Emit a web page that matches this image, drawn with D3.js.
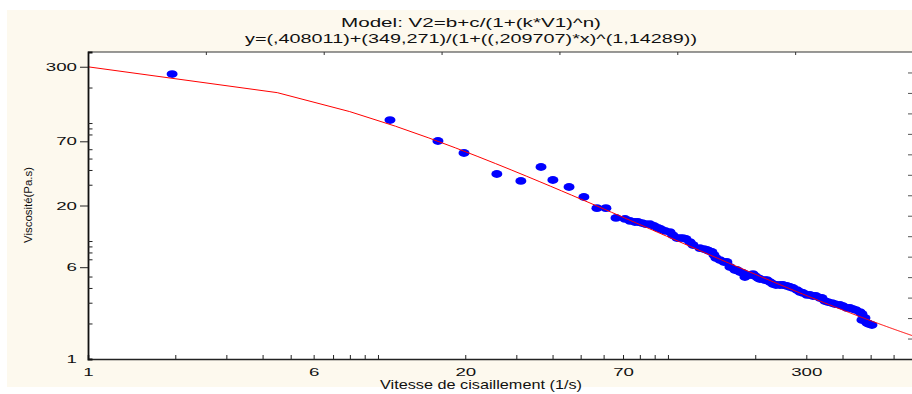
<!DOCTYPE html>
<html><head><meta charset="utf-8">
<script src="https://cdn.jsdelivr.net/npm/d3@7"></script>
<style>body{margin:0;background:#fff}svg{display:block}text{font-family:"Liberation Sans",Arial,sans-serif;fill:#111}</style>
</head><body>
<script>
// ---- data ----
const shearRate = [1.95, 11.0, 16.1, 19.8, 25.7, 31.1, 36.5, 40.1, 45.6, 51.3, 56.9, 61.1, 66.2, 71.1, 74.0, 76.9, 78.8, 81.4, 84.0, 86.7, 89.5, 92.4, 94.6, 97.6, 101.6, 104.0, 107.4, 110.0, 112.6, 115.4, 119.1, 122.0, 128.9, 133.1, 136.3, 138.5, 141.8, 144.1, 146.4, 151.1, 156.0, 159.7, 163.6, 170.2, 172.9, 177.1, 181.4, 184.3, 191.8, 196.4, 199.5, 204.4, 207.6, 216.0, 219.5, 224.8, 230.2, 235.8, 243.3, 249.3, 257.2, 263.5, 269.8, 278.5, 285.3, 292.2, 301.6, 308.9, 316.2, 323.8, 334.3, 339.6, 347.8, 356.1, 367.7, 376.5, 391.9, 401.3, 414.3, 424.2, 434.5, 444.9, 459.4, 466.7, 466.7, 478.0, 485.6, 493.4, 505.2];
const viscosity = [260, 106, 70.4, 55.7, 37.0, 32.3, 42.4, 32.9, 28.7, 23.6, 19.0, 19.0, 15.7, 15.4, 14.8, 14.5, 14.5, 14.2, 13.9, 13.9, 13.4, 12.9, 12.6, 12.2, 11.9, 11.2, 10.6, 10.6, 10.6, 10.4, 9.8, 9.25, 8.7, 8.55, 8.4, 8.23, 8.07, 7.61, 7.18, 6.9, 6.64, 6.64, 6.02, 5.68, 5.68, 5.46, 5.36, 4.95, 5.15, 5.25, 5.05, 4.86, 4.76, 4.67, 4.67, 4.49, 4.32, 4.24, 4.24, 4.24, 4.16, 4.08, 4.0, 3.84, 3.70, 3.63, 3.49, 3.49, 3.42, 3.42, 3.29, 3.29, 3.10, 3.04, 2.98, 2.92, 2.87, 2.81, 2.71, 2.71, 2.65, 2.60, 2.50, 2.41, 2.14, 2.23, 2.02, 1.98, 1.94];
const xMajorTicks = [1, 6, 20, 70, 300];
const yMajorTicks = [1, 6, 20, 70, 300];
const xMinorTicks = [2, 3, 4, 5, 7, 8, 9, 10, 30, 40, 50, 60, 80, 90, 100, 200, 400, 500, 600];
const yMinorTicks = [2, 3, 4, 5, 7, 8, 9, 10, 30, 40, 50, 60, 80, 90, 100, 200];
const topTicks = [1, 2, 3, 4, 5, 6];
const rightTicks = [1, 2, 3, 4, 5, 6, 7, 8, 9, 10, 11, 12, 13, 14];
const fitB = 0.408011, fitC = 349.271, fitK = 0.209707, fitN = 1.14289;
const curveSteps = 200;
const titleLines = ["Model: V2=b+c/(1+(k*V1)^n)", "y=(,408011)+(349,271)/(1+((,209707)*x)^(1,14289))"];
const xTitle = "Vitesse de cisaillement (1/s)";
const yTitle = "Viscosité(Pa.s)";

// ---- layout ----
const W = 912, H = 394;
const L = 88, R = 913, T = 52, B = 359;

const svg = d3.select("body").append("svg").attr("width", W).attr("height", H);
svg.append("rect").attr("width", W).attr("height", H).attr("fill", "#fff");
svg.append("rect").attr("x", 7).attr("y", 10).attr("width", W - 7).attr("height", 377).attr("fill", "#fdf9ee");
svg.append("rect").attr("x", L).attr("y", T).attr("width", R - L).attr("height", B - T).attr("fill", "#fff");

const x = d3.scaleLog().domain([1, 700]).range([L, R]);
const y = d3.scaleLog().domain([1, 400]).range([B, T]);
const xTop = d3.scaleLinear().domain([0, 7]).range([L, R]);
const yRight = d3.scaleLinear().domain([0, 15]).range([B, T]);

svg.append("clipPath").attr("id", "clip").append("rect")
  .attr("x", L).attr("y", T).attr("width", R - L).attr("height", B - T);
const plot = svg.append("g").attr("clip-path", "url(#clip)");

// points
const pts = shearRate.map((v, i) => [v, viscosity[i]]);
plot.selectAll("ellipse").data(pts).enter().append("ellipse")
  .attr("cx", d => x(d[0])).attr("cy", d => y(d[1]))
  .attr("rx", 5.5).attr("ry", 3.9).attr("fill", "#0000ff");

// fitted curve
const model = v => fitB + fitC / (1 + Math.pow(fitK * v, fitN));
const curve = d3.range(curveSteps + 1).map(i => {
  const v = 1 + (700 - 1) * i / curveSteps;
  return [v, model(v)];
});
plot.append("path").datum(curve)
  .attr("d", d3.line().x(d => x(d[0])).y(d => y(d[1])))
  .attr("fill", "none").attr("stroke", "#ff0000").attr("stroke-width", 1);

// frame
svg.append("line").attr("x1", L).attr("x2", R).attr("y1", T).attr("y2", T).attr("stroke", "#333").attr("stroke-width", 1.2);

// top and right unlabeled ticks
const gTop = svg.append("g").attr("transform", `translate(0,${T})`)
  .call(d3.axisTop(xTop).tickValues(topTicks).tickSize(-3).tickFormat(""));
gTop.select(".domain").remove();
gTop.selectAll("line").attr("stroke", "#333");
const gRight = svg.append("g").attr("transform", `translate(${R},0)`)
  .call(d3.axisRight(yRight).tickValues(rightTicks).tickSize(-5).tickFormat(""));
gRight.select(".domain").remove();
gRight.selectAll("line").attr("stroke", "#555");

// bottom axis
const gxMin = svg.append("g").attr("transform", `translate(0,${B})`)
  .call(d3.axisBottom(x).tickValues(xMinorTicks.concat(xMajorTicks)).tickSize(-4).tickFormat(""));
gxMin.select(".domain").attr("stroke", "#222").attr("stroke-width", 1.6);
gxMin.selectAll("line").attr("stroke", "#222");
const gx = svg.append("g").attr("transform", `translate(0,${B})`)
  .call(d3.axisBottom(x).tickValues(xMajorTicks).tickSize(0).tickPadding(9).tickFormat(d3.format("d")));
gx.select(".domain").remove();
gx.selectAll("text").attr("font-size", 11).attr("font-family", "Liberation Sans, Arial, sans-serif")
  .attr("fill", "#111")
  .attr("textLength", function () { return this.textContent.length * 10.4; })
  .attr("lengthAdjust", "spacingAndGlyphs");

// left axis
const gyMin = svg.append("g").attr("transform", `translate(${L},0)`)
  .call(d3.axisLeft(y).tickValues(yMinorTicks).tickSize(-4.5).tickFormat(""));
gyMin.select(".domain").attr("stroke", "#111").attr("stroke-width", 1.8);
gyMin.selectAll("line").attr("stroke", "#222");
const gy = svg.append("g").attr("transform", `translate(${L},0)`)
  .call(d3.axisLeft(y).tickValues(yMajorTicks).tickSize(8).tickPadding(3).tickFormat(d3.format("d")));
gy.select(".domain").remove();
gy.selectAll("line").attr("stroke", "#222");
gy.selectAll(".tick").filter(d => d === 1).select("line").remove();
gy.selectAll("text").attr("font-size", 11).attr("font-family", "Liberation Sans, Arial, sans-serif")
  .attr("fill", "#111")
  .attr("textLength", function () { return this.textContent.length * 10.4; })
  .attr("lengthAdjust", "spacingAndGlyphs");

// titles
svg.append("text").attr("x", 471).attr("y", 27).attr("text-anchor", "middle")
  .attr("font-size", 13).attr("textLength", 260).attr("lengthAdjust", "spacingAndGlyphs").text(titleLines[0]);
svg.append("text").attr("x", 471).attr("y", 43).attr("text-anchor", "middle")
  .attr("font-size", 13).attr("textLength", 452).attr("lengthAdjust", "spacingAndGlyphs").text(titleLines[1]);
svg.append("text").attr("x", 481).attr("y", 389).attr("text-anchor", "middle")
  .attr("font-size", 13.5).attr("textLength", 202).attr("lengthAdjust", "spacingAndGlyphs").text(xTitle);
svg.append("text").attr("transform", "translate(32,205) rotate(-90)").attr("text-anchor", "middle")
  .attr("font-size", 11).attr("textLength", 76).attr("lengthAdjust", "spacingAndGlyphs").text(yTitle);
</script>
</body></html>
